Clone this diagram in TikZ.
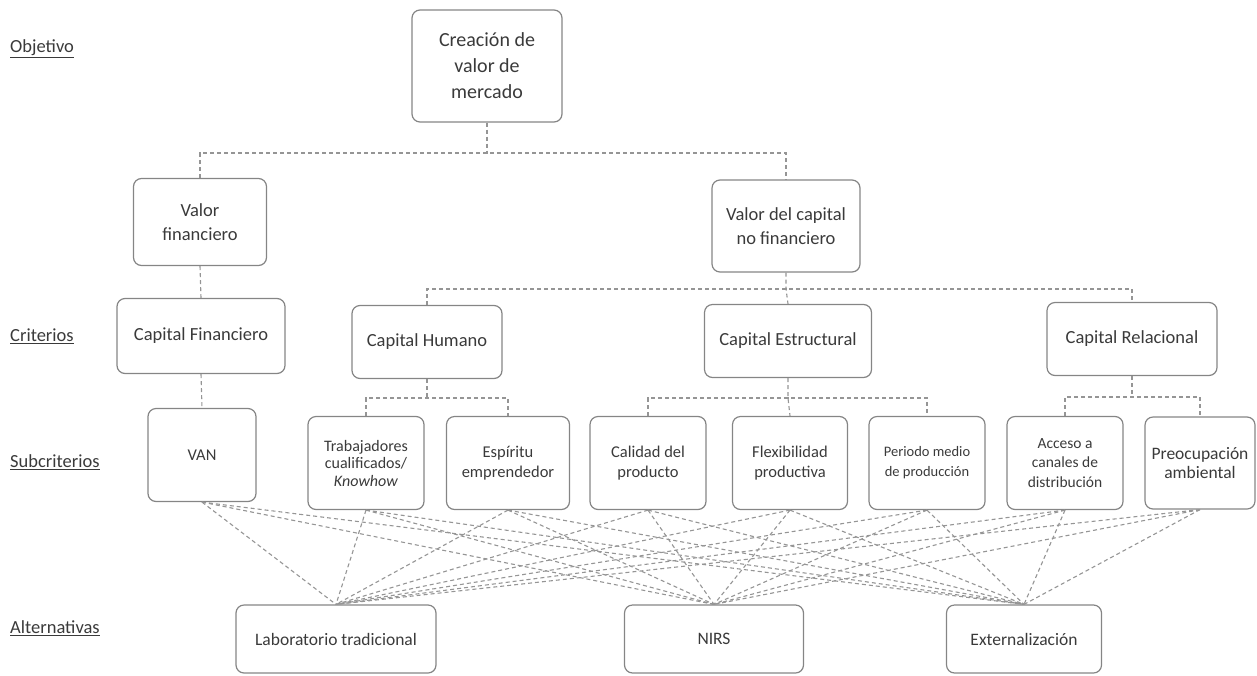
\documentclass[tikz,border=0pt]{standalone}
\usepackage{fontspec}
\setmainfont{Carlito}
\begin{document}
\begin{tikzpicture}[x=1pt,y=-1pt,
  box/.style={draw=boxgray,line width=1.2pt,rounded corners=8pt,align=center,
    text=txtgray,inner sep=0pt,font=\fontsize{18.5}{24}\selectfont},
  sub/.style={box,font=\fontsize{16.5}{20}\selectfont},
  conn/.style={draw=lngray,line width=1.1pt,dash pattern=on 4pt off 3pt},
  lbl/.style={anchor=west,text=txtgray,inner sep=0pt,font=\fontsize{18.5}{22}\selectfont}]
\definecolor{boxgray}{HTML}{858585}
\definecolor{txtgray}{HTML}{3A3A3A}
\definecolor{lngray}{HTML}{959595}
\useasboundingbox (0,0) rectangle (1257,675);
% level labels
\node[lbl] (lobj) at (10,49) {\underline{Objetivo}};
\node[lbl] (lcri) at (10,336) {\underline{Criterios}};
\node[lbl] (lsub) at (10,462) {\underline{Subcriterios}};
\node[lbl] (lalt) at (10,628) {\underline{Alternativas}};
% objective
\node[box,minimum width=150pt,minimum height=112pt,font=\fontsize{20}{26}\selectfont] (cre) at (487,66) {Creación de\\valor de\\mercado};
% values
\node[box,minimum width=133pt,minimum height=87pt] (vf) at (200,222) {Valor\\financiero};
\node[box,minimum width=148pt,minimum height=92pt] (vnf) at (786,226) {Valor del capital\\no financiero};
% criteria
\node[box,minimum width=168pt,minimum height=75pt] (cf) at (201,336) {Capital Financiero};
\node[box,minimum width=150pt,minimum height=73pt] (ch) at (427,342) {Capital Humano};
\node[box,minimum width=167pt,minimum height=73pt] (ce) at (788,341) {Capital Estructural};
\node[box,minimum width=170pt,minimum height=73pt] (cr) at (1132,339) {Capital Relacional};
% subcriteria
\node[sub,minimum width=108pt,minimum height=93pt] (van) at (202,455) {VAN};
\node[sub,minimum width=116pt,minimum height=93pt,font=\fontsize{16}{17.5}\selectfont] (tra) at (366,463) {Trabajadores\\cualificados/\\\textit{Knowhow}};
\node[sub,minimum width=123pt,minimum height=93pt] (esp) at (508,463) {Espíritu\\emprendedor};
\node[sub,minimum width=116pt,minimum height=93pt] (cal) at (648,463) {Calidad del\\producto};
\node[sub,minimum width=115pt,minimum height=93pt] (fle) at (790,463) {Flexibilidad\\productiva};
\node[sub,minimum width=116pt,minimum height=93pt,font=\fontsize{14.5}{20}\selectfont] (per) at (927,463) {Periodo medio\\de producción};
\node[sub,minimum width=116pt,minimum height=93pt,font=\fontsize{15.5}{19.5}\selectfont] (acc) at (1065,463) {Acceso a\\canales de\\distribución};
\node[sub,minimum width=110pt,minimum height=92pt,font=\fontsize{17.5}{19}\selectfont] (pre) at (1200,463) {Preocupación\\ambiental};
% alternatives
\node[box,minimum width=200pt,minimum height=68pt,font=\fontsize{17.5}{22}\selectfont] (lab) at (336,639) {Laboratorio tradicional};
\node[box,minimum width=179pt,minimum height=68pt,font=\fontsize{17.5}{22}\selectfont] (nirs) at (714,639) {NIRS};
\node[box,minimum width=155pt,minimum height=68pt,font=\fontsize{17.5}{22}\selectfont] (ext) at (1024,639) {Externalización};
% tree connectors
\coordinate (j1) at (487,153);
\draw[conn] (cre.south) -- (j1);
\draw[conn] (vf.north) |- (j1) -| (vnf.north);
\draw[conn] (vf.south) -- (cf.north);
\draw[conn] (cf.south) -- (van.north);
\coordinate (j2) at (786,289);
\draw[conn] (vnf.south) -- (j2) -- (ce.north);
\draw[conn] (ch.north) |- (j2) -| (cr.north);
\coordinate (j3) at (427,398);
\draw[conn] (ch.south) -- (j3);
\draw[conn] (tra.north) |- (j3) -| (esp.north);
\coordinate (j4) at (788,398);
\draw[conn] (ce.south) -- (j4) -- (fle.north);
\draw[conn] (cal.north) |- (j4) -| (per.north);
\coordinate (j5) at (1132,397);
\draw[conn] (cr.south) -- (j5);
\draw[conn] (acc.north) |- (j5) -| (pre.north);
% subcriteria to alternatives
\foreach \s in {van,tra,esp,cal,fle,per,acc,pre}{
  \foreach \a in {lab,nirs,ext}{
    \draw[conn] (\s.south) -- (\a.north);
  }
}
\end{tikzpicture}
\end{document}
